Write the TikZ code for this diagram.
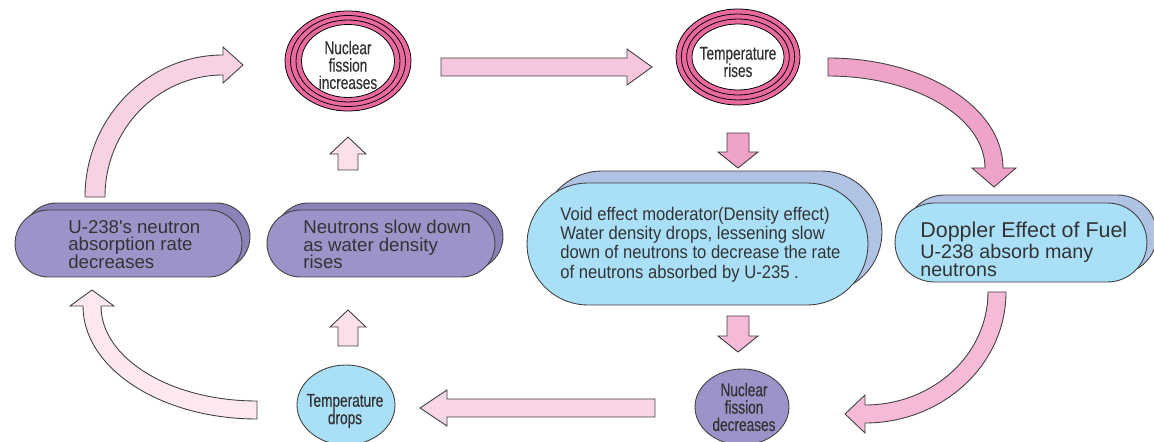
\documentclass[tikz,border=0pt]{standalone}
\usepackage{fontspec}
\setmainfont{Liberation Sans}
\newfontfamily\narrowfont[FakeStretch=0.74,FakeBold=0.4]{Liberation Sans}
\newfontfamily\semifont[FakeStretch=0.91]{Liberation Sans}
\usepackage{tikz}
\usetikzlibrary{shapes.misc,shapes.geometric}

\definecolor{ringpink}{HTML}{EA6AA0}
\definecolor{skyblue}{HTML}{AADFF8}
\definecolor{skyback}{HTML}{B1C3E4}
\definecolor{lilac}{HTML}{9C94C9}
\definecolor{lilacback}{HTML}{8983B8}
\definecolor{txtgray}{HTML}{333333}
\definecolor{pinkA}{HTML}{F6C6DE}
\definecolor{pinkB}{HTML}{F0A3C8}
\definecolor{pinkC}{HTML}{F5BAD7}
\definecolor{pinkD}{HTML}{F9D6E6}
\definecolor{pinkE}{HTML}{FBE0EC}
\definecolor{pinkF}{HTML}{FDE8F1}
\definecolor{pinkG}{HTML}{F8D2E4}

\begin{document}
\begin{tikzpicture}[x=0.02cm, y=-0.02cm,
    outline/.style={draw=black!75, line width=0.5pt},
    blockarrow/.style={outline, line join=miter},
    ringline/.style={draw=black, line width=0.45pt},
    stadium/.style={rounded rectangle, outline, inner sep=0pt},
    oval/.style={ellipse, outline, inner sep=0pt},
    ringtext/.style={font=\narrowfont\fontsize{10.5}{9.9}\selectfont, text=txtgray, align=center, inner sep=0pt},
    boxtext/.style={font=\fontsize{10.6}{10}\selectfont, text=txtgray, align=left, inner sep=0pt, anchor=north west}]
    \useasboundingbox (0,0) rectangle (1154,442);

    % Ring: fission increases
    \fill[ringpink] (348,61) ellipse [x radius=1.26cm, y radius=1cm];
    \draw[ringline] (348,61) ellipse [x radius=1.26cm, y radius=1cm];
    \draw[ringline] (348,61) ellipse [x radius=1.15cm, y radius=0.91cm];
    \draw[ringline] (348,61) ellipse [x radius=1.04cm, y radius=0.82cm];
    \draw[ringline, fill=white] (348,61) ellipse [x radius=0.93cm, y radius=0.73cm];
    \node[ringtext] (fissionup) at (348,65) {Nuclear\\fission\\increases};

    % Ring: temperature rises
    \fill[ringpink] (738,57) ellipse [x radius=1.24cm, y radius=0.96cm];
    \draw[ringline] (738,57) ellipse [x radius=1.24cm, y radius=0.96cm];
    \draw[ringline] (738,57) ellipse [x radius=1.133cm, y radius=0.86cm];
    \draw[ringline] (738,57) ellipse [x radius=1.027cm, y radius=0.76cm];
    \draw[ringline, fill=white] (738,57) ellipse [x radius=0.92cm, y radius=0.66cm];
    \node[ringtext] (tempup) at (738,62) {Temperature\\rises};

    % Stadium boxes, back copy first
    \node[stadium, fill=lilacback, minimum width=4.54cm, minimum height=1.34cm] (uback) at (136.5,236.5) {};
    \node[stadium, fill=lilac, minimum width=4.54cm, minimum height=1.34cm] (ubox) at (128.5,243.5) {};
    \node[boxtext] (utxt) at (68,220) {U-238\textquotesingle s neutron\\absorption rate\\decreases};

    \node[stadium, fill=lilacback, minimum width=4.56cm, minimum height=1.34cm] (slowback) at (389,236.5) {};
    \node[stadium, fill=lilac, minimum width=4.56cm, minimum height=1.34cm] (slowbox) at (381,243.5) {};
    \node[boxtext] (slowtxt) at (303,220) {Neutrons slow down\\as water density\\rises};

    \node[stadium, fill=skyback, minimum width=6.82cm, minimum height=2.44cm] (voidback) at (711.5,232) {};
    \node[stadium, fill=skyblue, minimum width=6.82cm, minimum height=2.44cm] (voidbox) at (697.5,244) {};
    \node[boxtext, font=\semifont\fontsize{10.4}{10.9}\selectfont] (voidtxt) at (560,207)
        {Void effect moderator(Density effect)\\Water density drops, lessening slow\\down of neutrons to decrease the rate\\of neutrons absorbed by U-235 .};

    \node[stadium, fill=skyback, minimum width=5.04cm, minimum height=1.58cm] (dopback) at (1031,234.5) {};
    \node[stadium, fill=skyblue, minimum width=5.04cm, minimum height=1.58cm] (dopbox) at (1021,242.5) {};
    \node[boxtext, font=\fontsize{11.2}{10.3}\selectfont] (doptxt) at (920,222)
        {{\fontsize{12.2}{10.3}\selectfont Doppler Effect of Fuel}\\U-238 absorb many\\neutrons};

    % Bottom ovals
    \node[oval, fill=skyblue, minimum width=1.96cm, minimum height=1.6cm] (tempdown) at (346,405) {};
    \node[ringtext] (tempdowntxt) at (345,411) {Temperature\\drops};
    \node[oval, fill=lilac, minimum width=1.88cm, minimum height=1.52cm] (fissiondown) at (742,407) {};
    \node[ringtext] (fissiondowntxt) at (744,407) {Nuclear\\fission\\decreases};

    % Straight block arrows
    \filldraw[blockarrow, fill=pinkA] (441,58) -- (627,58) -- (627,49) -- (652,67) -- (627,85) -- (627,76) -- (441,76) -- cycle;
    \filldraw[blockarrow, fill=pinkB] (727,133) -- (749,133) -- (749,152) -- (758,152) -- (738,168) -- (718,152) -- (727,152) -- cycle;
    \filldraw[blockarrow, fill=pinkC] (727,316) -- (749,316) -- (749,336) -- (758,336) -- (738,352) -- (718,336) -- (727,336) -- cycle;
    \filldraw[blockarrow, fill=pinkD] (655,399) -- (447,399) -- (447,390) -- (420,408) -- (447,426) -- (447,417) -- (655,417) -- cycle;
    \filldraw[blockarrow, fill=pinkE] (338,346) -- (338,327) -- (330,327) -- (348,310) -- (366,327) -- (358,327) -- (358,346) -- cycle;
    \filldraw[blockarrow, fill=pinkE] (338,170) -- (338,154) -- (330,154) -- (348,137) -- (366,154) -- (358,154) -- (358,170) -- cycle;

    % Curved block arrows
    \filldraw[blockarrow, fill=pinkG] (85,197) .. controls (85,118.6) and (146.8,55) .. (223,55) -- (223,47) -- (243,65) -- (223,83) -- (223,75) .. controls (157.8,75) and (105,129.6) .. (105,197) -- cycle;
    \filldraw[blockarrow, fill=pinkF] (257,401) -- (257,419) .. controls (160.9,419) and (83,368.4) .. (83,306) -- (70,306) -- (92,290) -- (114,306) -- (101,306) .. controls (101,358.5) and (170.8,401) .. (257,401) -- cycle;
    \filldraw[blockarrow, fill=pinkB] (828,58) .. controls (924.7,58) and (1003,107.2) .. (1003,168) -- (1016,168) -- (994,187) -- (972,168) -- (985,168) .. controls (985,117.2) and (914.7,76) .. (828,76) -- cycle;
    \filldraw[blockarrow, fill=pinkC] (1006,292) .. controls (1006,364.4) and (942.9,423) .. (865,423) -- (865,433) -- (845,414) -- (865,395) -- (865,405) .. controls (932.9,405) and (988,354.4) .. (988,292) -- cycle;
\end{tikzpicture}
\end{document}
